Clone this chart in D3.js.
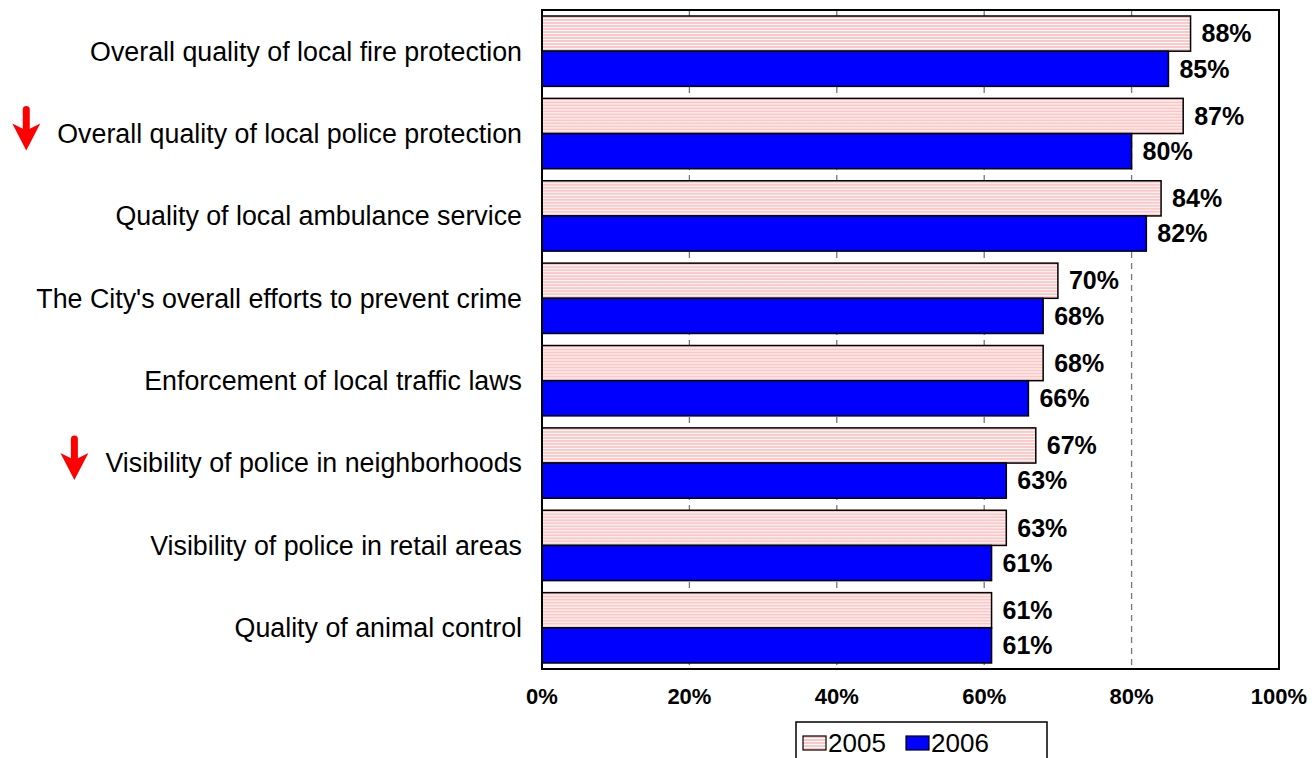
<!DOCTYPE html>
<html>
<head>
<meta charset="utf-8">
<script src="https://cdn.jsdelivr.net/npm/d3@7"></script>
<style>
  body { margin: 0; background: #fff; }
  text { font-family: Arial, "Liberation Sans", sans-serif; }
</style>
</head>
<body>
<div id="chart"></div>
<script>
var categories = [
  "Overall quality of local fire protection",
  "Overall quality of local police protection",
  "Quality of local ambulance service",
  "The City's overall efforts to prevent crime",
  "Enforcement of local traffic laws",
  "Visibility of police in neighborhoods",
  "Visibility of police in retail areas",
  "Quality of animal control"
];
var values2005 = [88, 87, 84, 70, 68, 67, 63, 61];
var values2006 = [85, 80, 82, 68, 66, 63, 61, 61];
var downArrows = [false, true, false, false, false, true, false, false];
var seriesNames = ["2005", "2006"];
var xTicks = [0, 20, 40, 60, 80, 100];

var width = 1312, height = 758;
var margin = {top: 10, left: 542, right: 33, bottom: 89};
var plotW = width - margin.left - margin.right,
    plotH = height - margin.top - margin.bottom;

var svg = d3.select("#chart").append("svg")
  .attr("width", width).attr("height", height);

// striped fill for 2005
var defs = svg.append("defs");
var pat = defs.append("pattern").attr("id", "stripes")
  .attr("patternUnits", "userSpaceOnUse").attr("width", 4).attr("height", 3);
pat.append("rect").attr("width", 4).attr("height", 3).attr("fill", "#ffffff");
pat.append("rect").attr("width", 4).attr("height", 2).attr("fill", "#ffc6c6");

var g = svg.append("g").attr("transform", `translate(${margin.left},${margin.top})`);

var x = d3.scaleLinear().domain([0, 100]).range([0, plotW]);
var y = d3.scaleBand().domain(categories).range([0, plotH]).paddingInner(0.146).paddingOuter(0.073);
var ySub = d3.scaleBand().domain(seriesNames).range([0, y.bandwidth()]);

// gridlines
g.selectAll(".grid").data(xTicks.filter(d => d > 0 && d < 100)).enter()
  .append("line")
  .attr("x1", d => x(d)).attr("x2", d => x(d))
  .attr("y1", 0).attr("y2", plotH)
  .attr("stroke", "#777").attr("stroke-width", 1.3)
  .attr("stroke-dasharray", "6,5");

var rows = g.selectAll(".row").data(categories).enter().append("g")
  .attr("transform", d => `translate(0,${y(d)})`);

rows.append("rect")
  .attr("x", 0).attr("y", ySub("2005"))
  .attr("width", (d, i) => x(values2005[i])).attr("height", ySub.bandwidth())
  .attr("fill", "url(#stripes)").attr("stroke", "#000").attr("stroke-width", 1.5);

rows.append("rect")
  .attr("x", 0).attr("y", ySub("2006"))
  .attr("width", (d, i) => x(values2006[i])).attr("height", ySub.bandwidth())
  .attr("fill", "#0000ff").attr("stroke", "#000").attr("stroke-width", 1.5);

rows.append("text")
  .attr("x", (d, i) => x(values2005[i]) + 11)
  .attr("y", ySub("2005") + ySub.bandwidth() / 2)
  .attr("dy", "0.35em")
  .style("font-size", "25px").style("font-weight", "bold")
  .text((d, i) => values2005[i] + "%");

rows.append("text")
  .attr("x", (d, i) => x(values2006[i]) + 11)
  .attr("y", ySub("2006") + ySub.bandwidth() / 2)
  .attr("dy", "0.35em")
  .style("font-size", "25px").style("font-weight", "bold")
  .text((d, i) => values2006[i] + "%");

// plot border
g.append("rect").attr("width", plotW).attr("height", plotH)
  .attr("fill", "none").attr("stroke", "#000").attr("stroke-width", 2);

// category labels
var labels = g.selectAll(".cat").data(categories).enter().append("text")
  .attr("x", -20)
  .attr("y", d => y(d) + y.bandwidth() / 2)
  .attr("dy", "0.35em")
  .attr("text-anchor", "end")
  .style("font-size", "26.8px")
  .text(d => d);

// red down arrows
labels.each(function(d, i) {
  if (!downArrows[i]) return;
  var len = this.getComputedTextLength();
  var cx = -20 - len - 31;
  var cy = y(d) + y.bandwidth() / 2 - 4;
  g.append("line")
    .attr("x1", cx).attr("x2", cx)
    .attr("y1", cy - 20).attr("y2", cy + 4)
    .attr("stroke", "#ff0000").attr("stroke-width", 7).attr("stroke-linecap", "round");
  g.append("path")
    .attr("d", `M${cx - 14},${cy - 6} L${cx},${cy + 1} L${cx + 14},${cy - 6} L${cx},${cy + 21} Z`)
    .attr("fill", "#ff0000");
});

// x axis labels
g.selectAll(".tick").data(xTicks).enter().append("text")
  .attr("x", d => x(d)).attr("y", plotH + 35)
  .attr("text-anchor", "middle")
  .style("font-size", "22px").style("font-weight", "bold")
  .text(d => d + "%");

// legend
var leg = svg.append("g").attr("transform", "translate(796,722)");
leg.append("rect").attr("width", 251).attr("height", 50)
  .attr("fill", "#fff").attr("stroke", "#000").attr("stroke-width", 1.5);
var swatchFill = ["url(#stripes)", "#0000ff"];
var legItems = leg.selectAll(".li").data(seriesNames).enter().append("g")
  .attr("transform", (d, i) => `translate(${7 + i * 103},14)`);
legItems.append("rect").attr("width", 23).attr("height", 14)
  .attr("fill", (d, i) => swatchFill[i]).attr("stroke", "#000").attr("stroke-width", 1.2);
legItems.append("text").attr("x", 25).attr("y", 7).attr("dy", "0.35em")
  .style("font-size", "26px").text(d => d);
</script>
</body>
</html>
